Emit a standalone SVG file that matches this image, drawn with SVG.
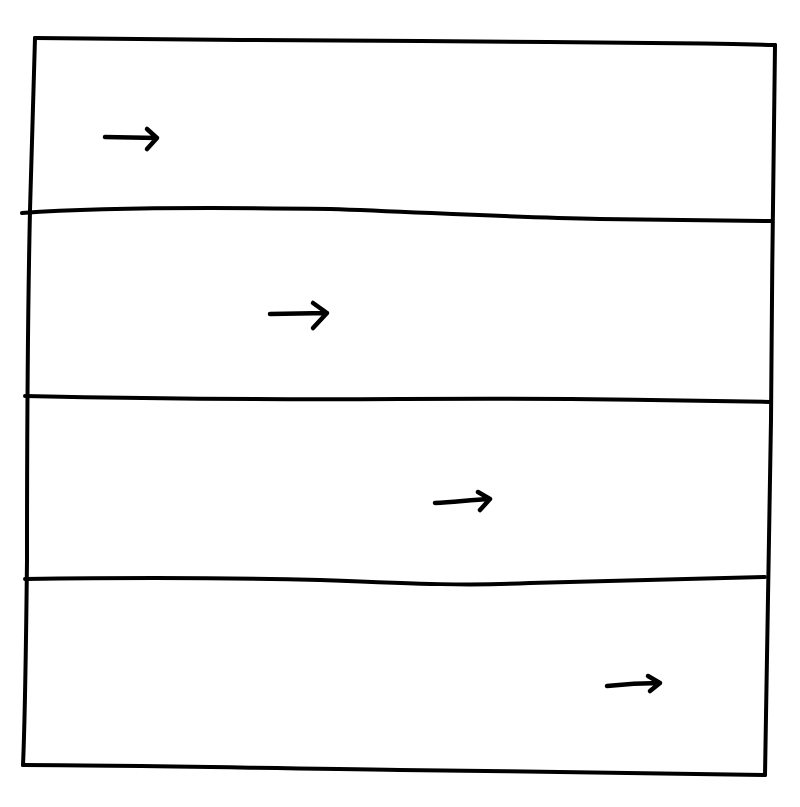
<svg xmlns="http://www.w3.org/2000/svg" width="800" height="807" viewBox="0 0 800 807">
  <style>
    .ink { fill: none; stroke: #000; stroke-width: 4; stroke-linecap: round; stroke-linejoin: round; }
    .arrow { fill: none; stroke: #000; stroke-width: 4.5; stroke-linecap: round; stroke-linejoin: round; }
  </style>
  <rect width="800" height="807" fill="#fff"/>
  <g id="frame">
    <path class="ink" d="M35,38 C150,40 300,40 420,41 C520,42 560,42 650,43 C700,43 740,44 775,45"/>
    <path class="ink" d="M775,45 C773,150 772,300 771,420 C769,560 767,680 765,775"/>
    <path class="ink" d="M35,38 C33,120 31,170 30,210 C28,300 27,420 27,560 C26,650 25,720 23,765"/>
    <path class="ink" d="M23,765 C120,765 250,768 400,770 C520,771 600,773 765,775"/>
  </g>
  <g id="band1">
    <path class="ink" d="M22,213 C90,208 200,207 330,209 C420,212 500,217 600,219 C680,220 740,221 772,221"/>
  </g>
  <g id="band2">
    <path class="ink" d="M25,396 C120,398 250,400 400,399 C520,398 640,399 770,402"/>
  </g>
  <g id="band3">
    <path class="ink" d="M25,579 C100,578 200,577 320,580 C420,584 470,586 530,583 C620,580 700,578 765,577"/>
  </g>
  <g id="band4"/>
  <g id="connectors">
    <path class="arrow" d="M105,137 L157,138 M147,129 L157,138 L147,149"/>
    <path class="arrow" d="M270,314 L327,313 M313,303 L327,313 L313,328"/>
    <path class="arrow" d="M435,503 C455,502 470,500 490,499 M478,492 L490,499 L480,510"/>
    <path class="arrow" d="M607,686 C625,684 640,683 660,683 M648,676 L660,683 L650,691"/>
  </g>
</svg>
